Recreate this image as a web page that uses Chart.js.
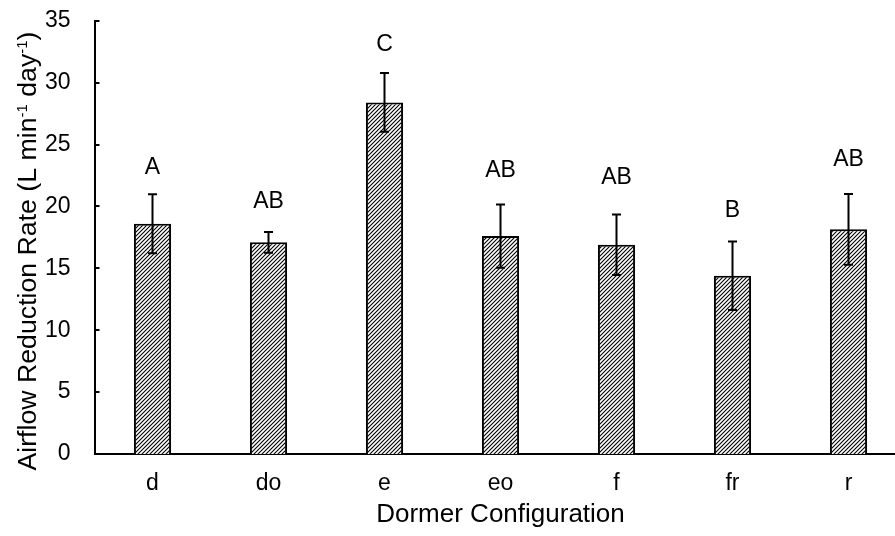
<!DOCTYPE html>
<html>
<head>
<meta charset="utf-8">
<script src="https://cdn.jsdelivr.net/npm/chart.js@4.4.1/dist/chart.umd.min.js"></script>
<style>
html, body { margin: 0; padding: 0; background: #fff; overflow: hidden; }
canvas { display: block; }
</style>
</head>
<body>
<canvas id="chart" width="910" height="536"></canvas>
<script>
// data
var configs = ['d', 'do', 'e', 'eo', 'f', 'fr', 'r'];
var meanRate = [18.6, 17.1, 28.4, 17.6, 16.9, 14.4, 18.15];
var stdErr = [2.38, 0.84, 2.37, 2.55, 2.45, 2.77, 2.86];
var groupLetters = ['A', 'AB', 'C', 'AB', 'AB', 'B', 'AB'];
var letterY = [23.1, 20.35, 33.05, 22.85, 22.35, 19.65, 23.75];

var FONT = '"Liberation Sans", Arial, sans-serif';

// diagonal hatch fill for the bars
function makeHatch() {
    var c = document.createElement('canvas');
    c.width = 4; c.height = 4;
    var g = c.getContext('2d');
    g.fillStyle = '#fff';
    g.fillRect(0, 0, 4, 4);
    g.strokeStyle = '#000';
    g.lineWidth = 1.1;
    g.beginPath();
    g.moveTo(-1, 5); g.lineTo(5, -1);
    g.moveTo(-1, 1); g.lineTo(1, -1);
    g.moveTo(3, 5); g.lineTo(5, 3);
    g.stroke();
    return g.createPattern(c, 'repeat');
}

var ctx = document.getElementById('chart').getContext('2d');

// error bars, letters, inner ticks and the y title
var extras = {
    id: 'extras',
    afterDatasetsDraw: function (chart) {
        var c = chart.ctx, ys = chart.scales.y, area = chart.chartArea;
        var meta = chart.getDatasetMeta(0);
        c.save();
        c.strokeStyle = '#000';
        c.lineWidth = 2;
        meta.data.forEach(function (bar, i) {
            var top = ys.getPixelForValue(meanRate[i] + stdErr[i]);
            var bot = ys.getPixelForValue(meanRate[i] - stdErr[i]);
            c.beginPath();
            c.moveTo(bar.x, top); c.lineTo(bar.x, bot);
            c.moveTo(bar.x - 4.5, top); c.lineTo(bar.x + 4.5, top);
            c.moveTo(bar.x - 4.5, bot); c.lineTo(bar.x + 4.5, bot);
            c.stroke();
        });

        c.fillStyle = '#000';
        c.font = '23px ' + FONT;
        c.textAlign = 'center';
        c.textBaseline = 'middle';
        meta.data.forEach(function (bar, i) {
            c.fillText(groupLetters[i], bar.x, ys.getPixelForValue(letterY[i]));
        });

        // tick marks pointing into the plot
        ys.ticks.forEach(function (t) {
            var py = Math.round(ys.getPixelForValue(t.value));
            c.beginPath();
            c.moveTo(area.left, py);
            c.lineTo(area.left + 5, py);
            c.stroke();
        });

        // y axis title with superscripts
        var parts = [
            { t: 'Airflow Reduction Rate (L min', sup: false },
            { t: '-1', sup: true },
            { t: ' day', sup: false },
            { t: '-1', sup: true },
            { t: ')', sup: false }
        ];
        var total = 0;
        parts.forEach(function (p) {
            c.font = (p.sup ? '15px ' : '26.7px ') + FONT;
            p.w = c.measureText(p.t).width;
            total += p.w;
        });
        c.translate(36, 251);
        c.rotate(-Math.PI / 2);
        c.textAlign = 'left';
        c.textBaseline = 'alphabetic';
        var px = -total / 2;
        parts.forEach(function (p) {
            c.font = (p.sup ? '15px ' : '26.7px ') + FONT;
            c.fillText(p.t, px, p.sup ? -9.5 : 0);
            px += p.w;
        });
        c.restore();
    }
};

var chart = new Chart(ctx, {
    type: 'bar',
    data: {
        labels: configs,
        datasets: [{
            data: meanRate,
            backgroundColor: makeHatch(),
            borderColor: '#000',
            borderWidth: 2,
            barPercentage: 0.32,
            categoryPercentage: 1.0
        }]
    },
    options: {
        responsive: false,
        animation: false,
        devicePixelRatio: 1,
        layout: { padding: { top: 20.7, right: 3.5, left: 0, bottom: 0 } },
        plugins: {
            legend: { display: false },
            tooltip: { enabled: false }
        },
        scales: {
            x: {
                grid: { display: false, drawTicks: false },
                border: { display: true, color: '#000', width: 2 },
                ticks: { color: '#000', font: { size: 23, family: FONT }, padding: 16 },
                title: {
                    display: true,
                    text: 'Dormer Configuration',
                    color: '#000',
                    font: { size: 26, family: FONT },
                    padding: { top: 0, bottom: 6 }
                },
                afterFit: function (scale) {
                    scale.height = 82;
                    scale.paddingLeft = 0;
                    scale.paddingRight = 0;
                }
            },
            y: {
                min: 0,
                max: 35,
                grid: { display: false, drawTicks: false },
                border: { display: true, color: '#000', width: 2 },
                ticks: { stepSize: 5, color: '#000', font: { size: 23, family: FONT }, padding: 24 },
                afterFit: function (scale) {
                    scale.width = 94.5;
                    scale.paddingTop = 0;
                    scale.paddingBottom = 0;
                }
            }
        }
    },
    plugins: [extras]
});
</script>
</body>
</html>
